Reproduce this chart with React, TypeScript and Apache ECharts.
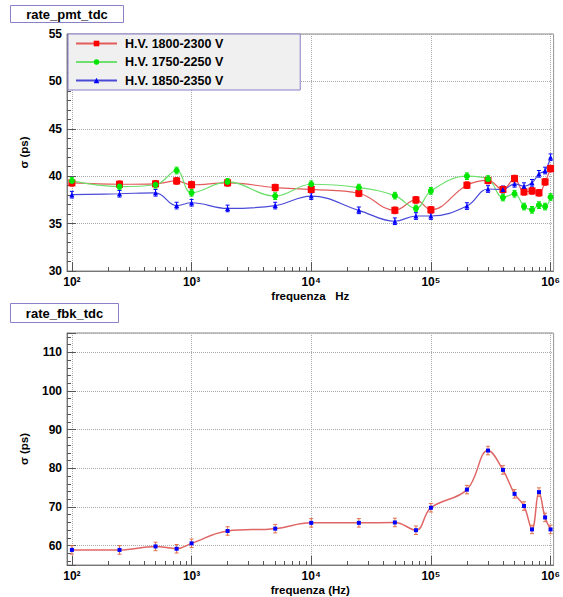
import React, { useEffect, useRef } from 'react';
import * as echarts from 'echarts';

const freqs = [100, 250, 500, 750, 1000, 2000, 5000, 10000, 25000, 50000, 75000, 100000, 200000, 300000, 400000, 500000, 600000, 700000, 800000, 900000, 1000000];
const pmtRed = [39.3, 39.15, 39.2, 39.5, 39.1, 39.3, 38.8, 38.6, 38.2, 36.4, 37.5, 36.45, 39.05, 39.55, 38.6, 39.75, 38.35, 38.45, 38.25, 39.4, 40.8];
const pmtGreen = [39.5, 38.9, 39.1, 40.6, 38.25, 39.4, 37.9, 39.15, 38.8, 37.95, 36.6, 38.45, 40.0, 39.7, 37.75, 38.15, 36.8, 36.45, 36.95, 36.8, 37.8];
const pmtBlue = [38.05, 38.15, 38.25, 36.9, 37.2, 36.6, 36.9, 37.9, 36.4, 35.25, 35.8, 35.8, 36.85, 38.65, 38.6, 39.2, 38.95, 39.3, 40.25, 40.6, 42.0];
const fbk = [58.9, 58.9, 59.8, 59.2, 60.6, 63.8, 64.4, 65.9, 65.9, 66.0, 64.0, 69.8, 74.5, 84.6, 79.6, 73.4, 70.25, 64.2, 73.85, 67.3, 64.2];

const seriesNames = ['H.V. 1800-2300 V', 'H.V. 1750-2250 V', 'H.V. 1850-2350 V'];
const minorFreqs = [200, 300, 400, 500, 600, 700, 800, 900, 2000, 3000, 4000, 5000, 6000, 7000, 8000, 9000, 20000, 30000, 40000, 50000, 60000, 70000, 80000, 90000, 200000, 300000, 400000, 500000, 600000, 700000, 800000, 900000];
const supDigits: Record<number, string> = { 0: '⁰', 1: '¹', 2: '²', 3: '³', 4: '⁴', 5: '⁵', 6: '⁶', 7: '⁷', 8: '⁸', 9: '⁹' };

const FONT = 'Liberation Sans, Arial, Helvetica, sans-serif';
const X_MIN = 91;
const X_MAX = 1.06e6;

function powLabel(v: number): string {
  const e = Math.log10(v);
  const r = Math.round(e);
  if (Math.abs(e - r) < 1e-6) return '10' + (supDigits[r] || String(r));
  return '';
}

function errRender(color: string, cap: number) {
  return (params: any, api: any) => {
    const x = api.value(0);
    const y = api.value(1);
    const e = api.value(2);
    const top = api.coord([x, y + e]);
    const bot = api.coord([x, y - e]);
    const st = { stroke: color, lineWidth: 1 };
    return {
      type: 'group',
      children: [
        { type: 'line', shape: { x1: top[0], y1: top[1], x2: bot[0], y2: bot[1] }, style: st },
        { type: 'line', shape: { x1: top[0] - cap, y1: top[1], x2: top[0] + cap, y2: top[1] }, style: st },
        { type: 'line', shape: { x1: bot[0] - cap, y1: bot[1], x2: bot[0] + cap, y2: bot[1] }, style: st },
      ],
    };
  };
}

function mainX(gridIndex: number, name: string, nameGap: number) {
  return {
    type: 'log',
    logBase: 10,
    gridIndex,
    min: X_MIN,
    max: X_MAX,
    position: 'bottom',
    axisLine: { show: true, onZero: false, lineStyle: { color: '#777', width: 1 } },
    axisTick: { show: true, inside: true, length: 9, lineStyle: { color: '#555' } },
    axisLabel: { formatter: powLabel, color: '#000', fontWeight: 'bold', fontSize: 12, fontFamily: FONT, margin: 5, showMinLabel: false, showMaxLabel: false },
    splitLine: { show: true, lineStyle: { color: '#aaa', type: 'dotted', width: 1 } },
    name,
    nameLocation: 'middle',
    nameGap,
    nameTextStyle: { color: '#000', fontWeight: 'bold', fontSize: 11.5, fontFamily: FONT },
  };
}

function minorX(gridIndex: number) {
  return {
    type: 'log',
    logBase: 10,
    gridIndex,
    min: X_MIN,
    max: X_MAX,
    position: 'bottom',
    axisLine: { show: false, onZero: false },
    axisLabel: { show: false },
    splitLine: { show: false },
    axisTick: { show: true, inside: true, length: 4, customValues: minorFreqs, lineStyle: { color: '#555' } },
  };
}

function yAx(gridIndex: number, extra: any) {
  return {
    type: 'value',
    gridIndex,
    axisLine: { show: true, lineStyle: { color: '#777' } },
    axisTick: { show: true, inside: true, length: 9, lineStyle: { color: '#555' } },
    minorTick: { show: true, splitNumber: 5, length: 4, lineStyle: { color: '#555' } },
    splitLine: { show: true, lineStyle: { color: '#aaa', type: 'dotted', width: 1 } },
    axisLabel: { color: '#000', fontWeight: 'bold', fontSize: 12, fontFamily: FONT, margin: 5 },
    name: 'σ (ps)',
    nameLocation: 'middle',
    nameRotate: 90,
    nameGap: 37,
    nameTextStyle: { color: '#000', fontWeight: 'bold', fontSize: 11.5, fontFamily: FONT },
    ...extra,
  };
}

function titleBox(left: number, top: number, w: number, h: number, text: string) {
  return {
    type: 'group',
    left,
    top,
    children: [
      { type: 'rect', shape: { x: 0, y: 0, width: w, height: h }, style: { fill: '#fff', stroke: '#8a7fc8', lineWidth: 1 } },
      {
        type: 'text',
        style: { text, x: w / 2, y: h / 2, align: 'center', verticalAlign: 'middle', fill: '#000', fontSize: 13, fontWeight: 'bold', fontFamily: FONT },
      },
    ],
  };
}

export default function App() {
  const ref = useRef<HTMLDivElement>(null);
  useEffect(() => {
    document.body.style.margin = '0';
    if (!ref.current) return;
    const chart = echarts.init(ref.current, undefined, { renderer: 'svg' });
    const pts = (ys: number[]) => freqs.map((f, i) => [f, ys[i]]);
    const errs = (ys: number[], e: number) => freqs.map((f, i) => [f, ys[i], e]);
    const topSeries = [
      { name: seriesNames[0], ys: pmtRed, mark: '#ff0000', line: '#e35a5a', symbol: 'rect', size: 7 },
      { name: seriesNames[1], ys: pmtGreen, mark: '#00e600', line: '#6fe06f', symbol: 'circle', size: 6 },
      { name: seriesNames[2], ys: pmtBlue, mark: '#0000ff', line: '#4a4ad8', symbol: 'triangle', size: 5 },
    ];
    const series: any[] = [];
    topSeries.forEach((s) => {
      series.push({
        type: 'custom',
        xAxisIndex: 0,
        yAxisIndex: 0,
        silent: true,
        z: 2,
        encode: { x: 0, y: 1 },
        data: errs(s.ys, 0.35),
        renderItem: errRender(s.mark, 2),
      });
      series.push({
        type: 'line',
        name: s.name,
        xAxisIndex: 0,
        yAxisIndex: 0,
        z: 3,
        data: pts(s.ys),
        smooth: 0.4,
        symbol: s.symbol,
        symbolSize: s.size,
        showAllSymbol: true,
        itemStyle: { color: s.mark },
        lineStyle: { color: s.line, width: 1.2 },
      });
    });
    series.push({
      type: 'custom',
      xAxisIndex: 2,
      yAxisIndex: 1,
      silent: true,
      z: 2,
      encode: { x: 0, y: 1 },
      data: errs(fbk, 1.1),
      renderItem: errRender('#e0704a', 2),
    });
    series.push({
      type: 'line',
      name: 'fbk',
      xAxisIndex: 2,
      yAxisIndex: 1,
      z: 3,
      data: pts(fbk),
      smooth: 0.4,
      symbol: 'rect',
      symbolSize: 4,
      showAllSymbol: true,
      itemStyle: { color: '#0000ff' },
      lineStyle: { color: '#e06666', width: 1.5 },
    });

    chart.setOption({
      animation: false,
      backgroundColor: '#fff',
      textStyle: { fontFamily: FONT },
      grid: [
        { left: 67, top: 34, width: 488, height: 237, show: true, borderColor: '#888', borderWidth: 1, backgroundColor: '#fff' },
        { left: 67, top: 333, width: 488, height: 237, show: true, borderColor: '#888', borderWidth: 1, backgroundColor: '#fff' },
      ],
      xAxis: [mainX(0, 'frequenza   Hz', 19), minorX(0), mainX(1, 'frequenza (Hz)', 19), minorX(1)],
      yAxis: [
        yAx(0, { min: 30, max: 55, interval: 5 }),
        yAx(1, {
          min: 55,
          max: 115,
          splitNumber: 6,
          axisLabel: { color: '#000', fontWeight: 'bold', fontSize: 12, fontFamily: FONT, margin: 5, formatter: (v: number) => (v % 10 === 0 ? String(v) : '') },
        }),
      ],
      legend: {
        data: seriesNames,
        left: 68,
        top: 34,
        orient: 'vertical',
        backgroundColor: '#f0f0f0',
        borderColor: '#8a7fc8',
        borderWidth: 1,
        borderRadius: 0,
        padding: [3, 77, 3, 7],
        itemGap: 5.5,
        itemWidth: 41,
        itemHeight: 7,
        selectedMode: false,
        textStyle: { color: '#000', fontWeight: 'bold', fontSize: 12.5, fontFamily: FONT, padding: [0, 0, 0, 3] },
      },
      graphic: [titleBox(10, 5, 113, 17, 'rate_pmt_tdc'), titleBox(10, 303, 108, 19, 'rate_fbk_tdc')],
      series,
    });
    return () => chart.dispose();
  }, []);
  return <div ref={ref} style={{ width: 563, height: 597 }} />;
}
